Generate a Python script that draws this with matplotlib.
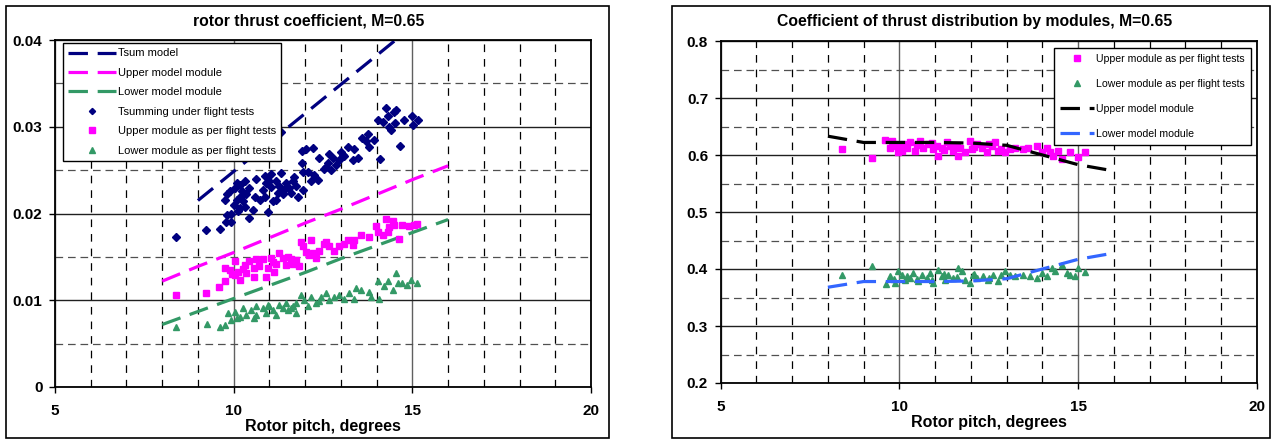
import matplotlib
matplotlib.use('Agg')
import matplotlib.pyplot as plt
from matplotlib.patches import Rectangle
from matplotlib.ticker import MultipleLocator, FuncFormatter

plt.rcParams['font.family'] = ['Liberation Sans', 'DejaVu Sans']
plt.rcParams['lines.scale_dashes'] = False

# ---- model curves (left chart) ----
model_x = [8, 9, 10, 11, 12, 13, 14, 15, 16]
upper_model = [0.0122, 0.0139, 0.0155, 0.0172, 0.0189, 0.0205, 0.0222, 0.0239, 0.0255]
lower_model = [0.0072, 0.0087, 0.0102, 0.0117, 0.0132, 0.0148, 0.0163, 0.0178, 0.0193]
tsum_model_x = [9, 16]
tsum_model = [0.0215, 0.0449]

# ---- flight test points (left chart) ----
tsum_x = [8.40, 9.22, 9.61, 9.78, 9.93, 9.81, 9.93, 10.44, 10.54, 10.17, 10.32, 10.08, 9.75,
          9.80, 9.91, 10.08, 10.33, 10.17, 10.26, 10.35, 10.59, 10.63, 10.87, 10.96, 10.87,
          11.05, 11.10, 11.19, 11.19, 11.33, 11.42, 11.38, 11.47, 11.66, 11.75, 11.79, 11.94,
          11.92, 11.94, 11.92, 12.03, 12.17, 12.21, 12.35, 12.40, 12.54, 12.63, 12.68, 12.78,
          12.96, 13.01, 13.10, 13.20, 13.38, 13.48, 13.60, 13.76, 13.80, 13.94, 14.10, 14.03,
          14.26, 14.31, 14.35, 14.49, 14.54, 14.52, 14.66, 14.77, 14.99, 15.01, 15.15, 14.17,
          10.91, 11.61, 10.44, 10.82, 11.05, 11.24, 12.08, 12.59, 12.87, 13.33, 12.73, 10.17,
          10.03, 10.26, 10.73, 11.56, 11.33, 10.00, 10.12, 10.22, 11.00, 11.28, 11.70, 12.25,
          13.05, 14.40, 13.70]
tsum_y = [0.0173, 0.0181, 0.0182, 0.0190, 0.0190, 0.0198, 0.0200, 0.0195, 0.0204, 0.0206,
          0.0208, 0.0216, 0.0216, 0.0223, 0.0226, 0.0235, 0.0237, 0.0219, 0.0214, 0.0223,
          0.0219, 0.0240, 0.0219, 0.0202, 0.0243, 0.0231, 0.0214, 0.0216, 0.0237, 0.0247,
          0.0227, 0.0222, 0.0235, 0.0238, 0.0232, 0.0219, 0.0227, 0.0258, 0.0248, 0.0272,
          0.0274, 0.0237, 0.0275, 0.0239, 0.0264, 0.0251, 0.0258, 0.0269, 0.0264, 0.0262,
          0.0271, 0.0266, 0.0277, 0.0274, 0.0264, 0.0287, 0.0292, 0.0277, 0.0285, 0.0263,
          0.0308, 0.0322, 0.0312, 0.0300, 0.0317, 0.0319, 0.0304, 0.0278, 0.0308, 0.0312,
          0.0302, 0.0308, 0.0306, 0.0235, 0.0224, 0.0229, 0.0227, 0.0245, 0.0224, 0.0248,
          0.0254, 0.0256, 0.0262, 0.0250, 0.0233, 0.0229, 0.0221, 0.0216, 0.0229, 0.0294,
          0.0210, 0.0203, 0.0226, 0.0238, 0.0232, 0.0242, 0.0244, 0.0268, 0.0296, 0.0283]

upper_x = [8.38, 9.22, 9.59, 9.75, 9.75, 9.89, 10.03, 10.03, 10.12, 10.17, 10.31, 10.35, 10.44,
           10.58, 10.58, 10.63, 10.82, 10.91, 10.96, 11.05, 11.14, 11.19, 11.28, 11.38, 11.47,
           11.51, 11.65, 11.75, 11.84, 11.89, 11.94, 12.03, 12.17, 12.21, 12.31, 12.40, 12.59,
           12.68, 12.82, 12.96, 13.10, 13.20, 13.33, 13.57, 13.80, 13.99, 14.03, 14.26, 14.31,
           14.35, 14.45, 14.49, 14.63, 14.72, 14.91, 15.05, 15.14, 14.17, 13.38, 12.54, 10.25,
           10.70, 11.10, 11.60, 12.10, 9.95]
upper_y = [0.0106, 0.0108, 0.0115, 0.0122, 0.0137, 0.0135, 0.0145, 0.0129, 0.0133, 0.0123,
           0.0141, 0.0131, 0.0145, 0.0137, 0.0127, 0.0147, 0.0147, 0.0127, 0.0137, 0.0149,
           0.0133, 0.0142, 0.0154, 0.0149, 0.0141, 0.0150, 0.0142, 0.0146, 0.0139, 0.0167,
           0.0162, 0.0156, 0.0169, 0.0154, 0.0149, 0.0157, 0.0167, 0.0162, 0.0157, 0.0162,
           0.0165, 0.0169, 0.0164, 0.0175, 0.0173, 0.0186, 0.0179, 0.0194, 0.0179, 0.0185,
           0.0191, 0.0187, 0.0171, 0.0187, 0.0186, 0.0187, 0.0188, 0.0175, 0.0169, 0.0165,
           0.0136, 0.0140, 0.0144, 0.0147, 0.0152, 0.0130]

lower_x = [8.40, 9.24, 9.61, 9.77, 9.93, 10.03, 9.84, 10.17, 10.26, 10.35, 10.49, 10.58, 10.63,
           10.82, 10.91, 10.96, 11.10, 11.19, 11.28, 11.38, 11.51, 11.65, 11.75, 11.89, 11.98,
           12.08, 12.17, 12.31, 12.45, 12.59, 12.68, 12.82, 12.96, 13.10, 13.24, 13.38, 13.57,
           13.80, 13.85, 14.03, 14.08, 14.22, 14.31, 14.45, 14.54, 14.59, 14.72, 14.86, 14.96,
           15.14, 11.47, 11.75, 13.43, 10.63, 10.10, 11.00, 11.60, 12.40]
lower_y = [0.0069, 0.0073, 0.0069, 0.0072, 0.0077, 0.0087, 0.0085, 0.0081, 0.0091, 0.0083,
           0.0089, 0.0079, 0.0093, 0.0091, 0.0085, 0.0095, 0.0089, 0.0083, 0.0095, 0.0091,
           0.0089, 0.0093, 0.0097, 0.0106, 0.0100, 0.0093, 0.0104, 0.0097, 0.0104, 0.0108,
           0.0100, 0.0104, 0.0106, 0.0102, 0.0108, 0.0102, 0.0112, 0.0110, 0.0104, 0.0122,
           0.0102, 0.0116, 0.0122, 0.0112, 0.0131, 0.0120, 0.0120, 0.0118, 0.0123, 0.0120,
           0.0097, 0.0085, 0.0114, 0.0083, 0.0080, 0.0093, 0.0091, 0.0099]

# ---- right chart: share of each module ----
share_model_x = [8, 9, 10, 11, 12, 13, 14, 15, 16]
share_upper_model = [0.633, 0.622, 0.622, 0.622, 0.621, 0.617, 0.600, 0.583, 0.572]
share_lower_model = [0.368, 0.378, 0.378, 0.378, 0.379, 0.383, 0.400, 0.417, 0.428]

share_up_x = [8.39, 9.22, 9.60, 9.78, 9.74, 9.92, 10.06, 9.97, 10.11, 10.30, 10.44, 10.58,
              10.67, 10.81, 10.95, 11.04, 11.09, 11.18, 11.32, 11.41, 11.51, 11.65, 11.69,
              11.83, 11.97, 12.02, 12.16, 12.30, 12.44, 12.58, 12.67, 12.77, 12.95, 13.09,
              13.23, 13.46, 13.60, 13.84, 13.98, 14.12, 14.21, 14.30, 14.44, 14.54, 14.77,
              15.00, 15.19, 9.85, 10.20, 10.50, 10.90, 11.25, 11.60, 12.10, 12.50, 12.85]
share_up_y = [0.610, 0.594, 0.627, 0.625, 0.613, 0.616, 0.607, 0.605, 0.619, 0.622, 0.607,
              0.625, 0.613, 0.619, 0.610, 0.616, 0.599, 0.613, 0.622, 0.616, 0.607, 0.599,
              0.613, 0.605, 0.625, 0.610, 0.619, 0.613, 0.605, 0.616, 0.622, 0.607, 0.605,
              0.610, 0.613, 0.610, 0.613, 0.616, 0.605, 0.613, 0.605, 0.599, 0.607, 0.593,
              0.605, 0.596, 0.605, 0.620, 0.612, 0.617, 0.621, 0.608, 0.618, 0.614, 0.620,
              0.611]

share_low_x = [8.39, 9.22, 9.63, 9.74, 9.88, 9.97, 10.06, 10.16, 10.30, 10.39, 10.53, 10.63,
               10.77, 10.86, 10.95, 11.09, 11.18, 11.27, 11.37, 11.51, 11.65, 11.74, 11.83,
               11.97, 12.07, 12.16, 12.35, 12.49, 12.63, 12.77, 12.95, 13.09, 13.23, 13.46,
               13.65, 13.84, 13.98, 14.12, 14.26, 14.35, 14.54, 14.68, 14.77, 14.91, 15.00,
               15.19, 9.85, 10.20, 10.50, 10.90, 11.25, 11.60, 12.10, 12.50, 12.85]
share_low_y = [0.390, 0.406, 0.374, 0.387, 0.376, 0.396, 0.390, 0.381, 0.384, 0.393, 0.379,
               0.390, 0.384, 0.393, 0.376, 0.399, 0.387, 0.381, 0.390, 0.384, 0.401, 0.396,
               0.381, 0.376, 0.390, 0.384, 0.387, 0.381, 0.390, 0.379, 0.396, 0.390, 0.387,
               0.390, 0.387, 0.384, 0.393, 0.387, 0.401, 0.396, 0.407, 0.393, 0.390, 0.388,
               0.401, 0.394, 0.382, 0.388, 0.383, 0.380, 0.392, 0.386, 0.391, 0.385, 0.389]

NAVY = '#000080'
MAGENTA = '#FF00FF'
GREEN = '#339966'
BLUE = '#3366FF'
model_dash = (0, (14, 7))


def style_axes(ax, ylo, yhi, ymajor, yminor):
    ax.set_xlim(5, 20)
    ax.set_ylim(ylo, yhi)
    ax.xaxis.set_major_locator(MultipleLocator(5))
    ax.xaxis.set_minor_locator(MultipleLocator(1))
    ax.yaxis.set_major_locator(MultipleLocator(ymajor))
    ax.yaxis.set_minor_locator(MultipleLocator(yminor))
    ax.yaxis.set_major_formatter(FuncFormatter(lambda v, p: '%g' % round(v, 4)))
    ax.set_axisbelow(True)
    ax.grid(which='major', axis='x', color='#606060', lw=1.0, ls='-')
    ax.grid(which='major', axis='y', color='#202020', lw=1.0, ls='-')
    ax.grid(which='minor', axis='x', color='black', lw=0.9, ls=(0, (5.5, 5)))
    ax.grid(which='minor', axis='y', color='#505050', lw=0.9, ls=(0, (5.5, 3.5)))
    ax.tick_params(which='major', direction='out', length=4, width=1, labelsize=11)
    ax.tick_params(axis='x', which='major', pad=8)
    ax.tick_params(axis='y', which='major', pad=5)
    ax.tick_params(which='minor', length=0)
    for lab in ax.get_xticklabels() + ax.get_yticklabels():
        lab.set_fontweight('bold')
    for s in ax.spines.values():
        s.set_color('black')
        s.set_linewidth(1.3)
    ax.set_xlabel('Rotor pitch, degrees', fontsize=11.5, fontweight='bold', labelpad=1)


fig = plt.figure(figsize=(12.73, 4.41), dpi=100)

# panel frames
fig.patches.append(Rectangle((6 / 1273, 3 / 441), 603 / 1273, 432 / 441, transform=fig.transFigure,
                             fill=False, edgecolor='black', lw=1.2))
fig.patches.append(Rectangle((672 / 1273, 3 / 441), 598 / 1273, 432 / 441, transform=fig.transFigure,
                             fill=False, edgecolor='black', lw=1.2))

# ---------------- left chart ----------------
ax1 = fig.add_axes([55 / 1273, 54 / 441, 536 / 1273, 347 / 441])
ax1.plot(tsum_model_x, tsum_model, color=NAVY, lw=2.3, ls=model_dash, label='Tsum model')
ax1.plot(model_x, upper_model, color=MAGENTA, lw=2.3, ls=model_dash, label='Upper model module')
ax1.plot(model_x, lower_model, color=GREEN, lw=2.3, ls=model_dash, label='Lower model module')
ax1.plot(tsum_x, tsum_y, 'D', color=NAVY, ms=3.7, ls='none', label='Tsumming under flight tests')
ax1.plot(upper_x, upper_y, 's', color=MAGENTA, ms=4.5, ls='none', label='Upper module as per flight tests')
ax1.plot(lower_x, lower_y, '^', color=GREEN, ms=4.8, ls='none', label='Lower module as per flight tests')
style_axes(ax1, 0, 0.04, 0.01, 0.005)
leg1 = ax1.legend(loc='upper left', bbox_to_anchor=(0.015, 0.99), borderaxespad=0, fontsize=8,
                  frameon=True, fancybox=False, edgecolor='black', framealpha=1, numpoints=1,
                  borderpad=0.45, labelspacing=0.85, handlelength=4.3, handletextpad=0.2,
                  markerscale=0.85)
leg1.get_frame().set_linewidth(1.0)
fig.text(309 / 1273, 1 - 21 / 441, 'rotor thrust coefficient, M=0.65', ha='center', va='center',
         fontsize=11.3, fontweight='bold')

# ---------------- right chart ----------------
ax2 = fig.add_axes([720.6 / 1273, 58 / 441, 536.4 / 1273, 342 / 441])
ax2.plot(share_up_x, share_up_y, 's', color=MAGENTA, ms=4.5, ls='none', label='Upper module as per flight tests')
ax2.plot(share_low_x, share_low_y, '^', color=GREEN, ms=4.8, ls='none', label='Lower module as per flight tests')
ax2.plot(share_model_x, share_upper_model, color='black', lw=2.3, ls=model_dash, label='Upper model module')
ax2.plot(share_model_x, share_lower_model, color=BLUE, lw=2.3, ls=model_dash, label='Lower model module')
style_axes(ax2, 0.2, 0.8, 0.1, 0.05)
leg2 = ax2.legend(loc='upper right', bbox_to_anchor=(0.989, 0.98), borderaxespad=0, fontsize=7.6,
                  frameon=True, fancybox=False, edgecolor='black', framealpha=1, numpoints=1,
                  borderpad=0.6, labelspacing=1.4, handlelength=3.2, handletextpad=0.2,
                  markerscale=0.85)
leg2.get_frame().set_linewidth(1.0)
fig.text(975 / 1273, 1 - 21.5 / 441, 'Coefficient of thrust distribution by modules, M=0.65',
         ha='center', va='center', fontsize=11.3, fontweight='bold')

fig.savefig('out.png', dpi=100, facecolor='white')
